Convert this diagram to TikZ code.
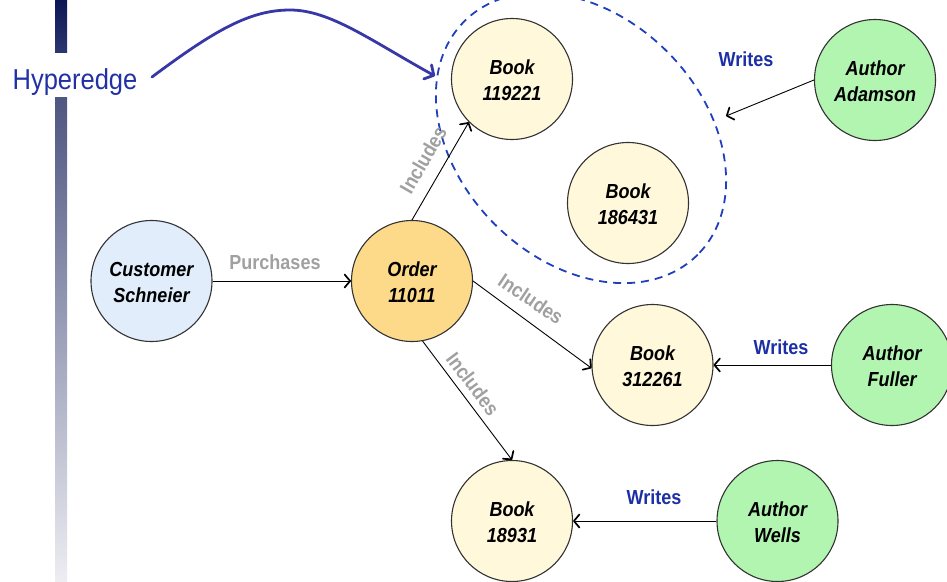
\documentclass[tikz,border=0pt]{standalone}
\usepackage{fontspec}
\usepackage{graphicx}
\setmainfont{Liberation Sans}
\usetikzlibrary{arrows.meta,calc}

\definecolor{custfill}{HTML}{E1EDFB}
\definecolor{orderfill}{HTML}{FDD98A}
\definecolor{bookfill}{HTML}{FFF8DB}
\definecolor{authfill}{HTML}{B1F5B1}
\definecolor{rimgray}{HTML}{333333}
\definecolor{labgray}{HTML}{A0A0A0}
\definecolor{writeblue}{HTML}{1C2FA5}
\definecolor{hyperblue}{HTML}{3737A8}
\definecolor{dashblue}{HTML}{1F3FBF}
\definecolor{barA}{HTML}{0B1655}
\definecolor{barB}{HTML}{2C366F}
\definecolor{barC}{HTML}{4E5681}
\definecolor{barD}{HTML}{EDEDF2}

% slightly condensed look: stretch the lettering vertically
\newcommand{\tallt}[1]{\scalebox{1}[1.13]{#1}}
% two centred lines, nudged down a little inside the circle
\newcommand{\twoline}[2]{\raisebox{-3pt}[\height][\depth]{\tallt{\begin{tabular}{@{}c@{}}#1\\#2\end{tabular}}}}

\tikzset{
  entity/.style={circle, draw=rimgray, line width=1.1pt, minimum size=121pt,
    inner sep=0pt, align=center,
    font=\fontsize{18}{23}\selectfont\bfseries\itshape},
  custnode/.style={entity, fill=custfill},
  ordernode/.style={entity, fill=orderfill},
  booknode/.style={entity, fill=bookfill},
  authnode/.style={entity, fill=authfill},
  rel/.style={draw=black, line width=0.9pt,
    -{Straight Barb[length=5.5pt,width=13pt,line width=1.7pt,round]}},
  greylab/.style={text=labgray, font=\fontsize{18}{20}\selectfont\bfseries, inner sep=0pt},
  writelab/.style={text=writeblue, font=\fontsize{18}{20}\selectfont\bfseries, inner sep=0pt},
}

\begin{document}
\begin{tikzpicture}[x=1pt,y=-1pt]
\useasboundingbox (0,0) rectangle (947,581);

% side bar, split around the caption
\shade[top color=barA, bottom color=barB] (55,0) rectangle (67,52);
\shade[top color=barC, bottom color=barD] (55,97) rectangle (67,581);
\node[text=writeblue!80!hyperblue, font=\fontsize{25.5}{28}\selectfont, inner sep=0pt]
  (hyper) at (75,82) {\tallt{Hyperedge}};

% hyperedge boundary
\draw[dashblue, line width=1.8pt, dash pattern=on 8pt off 6pt,
  rotate around={-45:(581,138)}] (581,138) ellipse [x radius=165, y radius=122];

% entities
\node[custnode]  (cust)  at (151.5,281) {\twoline{Customer}{Schneier}};
\node[ordernode] (order) at (412,281)   {\twoline{Order}{11011}};
\node[booknode]  (b1)    at (512,79)    {\twoline{Book}{119221}};
\node[booknode]  (b2)    at (628,203)   {\twoline{Book}{186431}};
\node[booknode]  (b3)    at (652.5,365) {\twoline{Book}{312261}};
\node[booknode]  (b4)    at (512,521)   {\twoline{Book}{18931}};
\node[authnode]  (adam)  at (875,80)    {\twoline{Author}{Adamson}};
\node[authnode]  (fuller) at (892,365)  {\twoline{Author}{Fuller}};
\node[authnode]  (wells) at (777.5,521) {\twoline{Author}{Wells}};

\coordinate (edgehit) at (726,116);
\coordinate (hstart) at (152,77);

% relationships
\draw[rel] (cust.east) -- (order.west);
\draw[rel] (order.90) -- (b1.225);
\draw[rel] (order.east) -- (b3.183);
\draw[rel] (order.-80) -- (b4.north);
\draw[rel] (adam.west) -- (edgehit);
\draw[rel] (fuller.west) -- (b3.east);
\draw[rel] (wells.west) -- (b4.east);

% pointer from the caption to the hyperedge
\draw[hyperblue, line width=2.8pt, line cap=round,
  -{Straight Barb[length=7pt,width=16pt,round]}]
  (hstart) .. controls (215,30) and (250,10) .. (290,10)
  .. controls (330,10) and (370,40) .. (435,76);

% labels
\node[greylab] (lp) at (275,262) {\tallt{Purchases}};
\node[greylab, rotate=60]  (li1) at (423,160) {\tallt{Includes}};
\node[greylab, rotate=-34] (li2) at (531,299) {\tallt{Includes}};
\node[greylab, rotate=-53] (li3) at (473,384) {\tallt{Includes}};
\node[writelab] (lw1) at (746,59)  {\tallt{Writes}};
\node[writelab] (lw2) at (781,347) {\tallt{Writes}};
\node[writelab] (lw3) at (654,497) {\tallt{Writes}};
\end{tikzpicture}
\end{document}
